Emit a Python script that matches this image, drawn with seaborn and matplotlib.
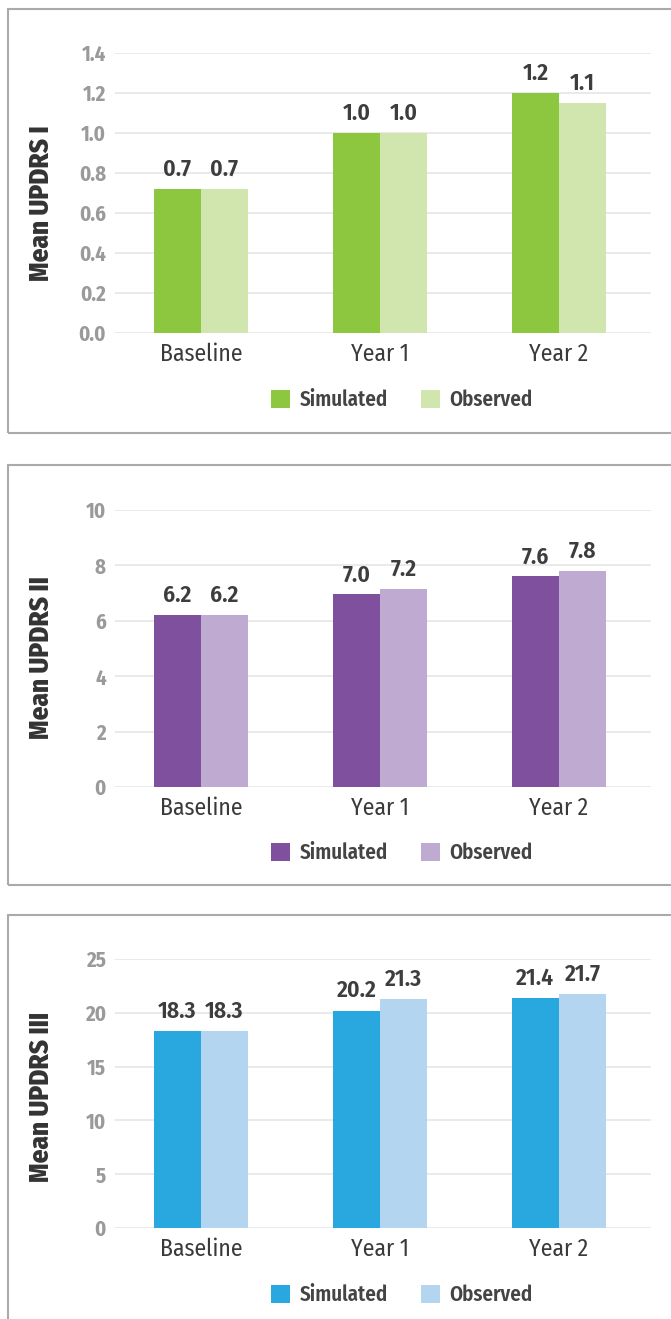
import numpy as np
import pandas as pd
import matplotlib
matplotlib.use('Agg')
import matplotlib.pyplot as plt
import matplotlib.patches as mpatches
import seaborn as sns

visits = ['Baseline', 'Year 1', 'Year 2']
series = ['Simulated', 'Observed']

updrs1_sim = [0.72, 1.0, 1.2]
updrs1_obs = [0.72, 1.0, 1.15]
updrs1_sim_lbl = ['0.7', '1.0', '1.2']
updrs1_obs_lbl = ['0.7', '1.0', '1.1']

updrs2_sim = [6.2, 6.95, 7.6]
updrs2_obs = [6.2, 7.15, 7.8]
updrs2_sim_lbl = ['6.2', '7.0', '7.6']
updrs2_obs_lbl = ['6.2', '7.2', '7.8']

updrs3_sim = [18.3, 20.2, 21.4]
updrs3_obs = [18.3, 21.3, 21.75]
updrs3_sim_lbl = ['18.3', '20.2', '21.4']
updrs3_obs_lbl = ['18.3', '21.3', '21.7']

sns.set_style('white')
plt.rcParams['font.family'] = ['Fira Sans Condensed', 'DejaVu Sans']

W, H = 671, 1319
fig = plt.figure(figsize=(W / 100, H / 100), dpi=100)

panels = [
    dict(sim=updrs1_sim, obs=updrs1_obs, sl=updrs1_sim_lbl, ol=updrs1_obs_lbl,
         ylabel='Mean UPDRS I', ylim=1.4, ticks=np.arange(0, 1.41, 0.2), fmt='{:.1f}',
         colors=['#8dc63f', '#d0e6ae'], top=53, bot=333, box=(9, 433), leg=400, ly=0.4625),
    dict(sim=updrs2_sim, obs=updrs2_obs, sl=updrs2_sim_lbl, ol=updrs2_obs_lbl,
         ylabel='Mean UPDRS II', ylim=10, ticks=np.arange(0, 11, 2), fmt='{:.0f}',
         colors=['#7f509e', '#bfabd2'], top=510, bot=787, box=(465, 885), leg=853, ly=0.469),
    dict(sim=updrs3_sim, obs=updrs3_obs, sl=updrs3_sim_lbl, ol=updrs3_obs_lbl,
         ylabel='Mean UPDRS III', ylim=25, ticks=np.arange(0, 26, 5), fmt='{:.0f}',
         colors=['#29a8e0', '#b3d5f0'], top=959, bot=1228, box=(915, 1340), leg=1295, ly=0.487),
]

for p in panels:
    # panel border
    y0, y1 = p['box']
    fig.patches.append(mpatches.Rectangle((8 / W, 1 - y1 / H), 1.1, (y1 - y0) / H,
                                          transform=fig.transFigure, fill=False,
                                          edgecolor='#aaaaaa', linewidth=1.5, clip_on=False))

    ax = fig.add_axes([115 / W, 1 - p['bot'] / H, 536 / W, (p['bot'] - p['top']) / H])
    df = pd.DataFrame({'visit': visits * 2,
                       'value': p['sim'] + p['obs'],
                       'series': [series[0]] * 3 + [series[1]] * 3})
    sns.barplot(data=df, x='visit', y='value', hue='series', palette=p['colors'],
                width=0.525, saturation=1, ax=ax, linewidth=0)

    ax.bar_label(ax.containers[0], labels=p['sl'], padding=6, fontsize=17,
                 fontweight=600, color='#3d3d3d')
    ax.bar_label(ax.containers[1], labels=p['ol'], padding=6, fontsize=17,
                 fontweight=600, color='#3d3d3d')

    ax.set_xlim(-0.48, 2.514)
    ax.set_ylim(0, p['ylim'])
    ax.set_yticks(p['ticks'])
    ax.set_yticklabels([p['fmt'].format(t) for t in p['ticks']], fontsize=15,
                       fontweight='bold', color='#9a9a9a')
    ax.tick_params(axis='y', length=0, pad=6.5)
    ax.tick_params(axis='x', length=0, pad=7, labelsize=17, labelcolor='#3a3a3a')
    ax.grid(axis='y', color='#e6e6e6', linewidth=1.2)
    ax.set_axisbelow(True)
    for s in ax.spines.values():
        s.set_visible(False)
    ax.set_xlabel('')
    ax.set_ylabel(p['ylabel'], fontsize=19.5, fontweight=800, color='#333333')
    ax.yaxis.set_label_coords(-0.112, p['ly'])

    handles, labels = ax.get_legend_handles_labels()
    ax.legend(handles, labels, ncol=2, loc='center', frameon=False,
              bbox_to_anchor=(402 / W, 1 - p['leg'] / H), bbox_transform=fig.transFigure,
              prop={'size': 15, 'weight': 600}, labelcolor='#444444',
              handlelength=0.9, handleheight=0.9, handletextpad=0.45,
              columnspacing=1.6, borderaxespad=0)

fig.savefig('out.png', dpi=100)
